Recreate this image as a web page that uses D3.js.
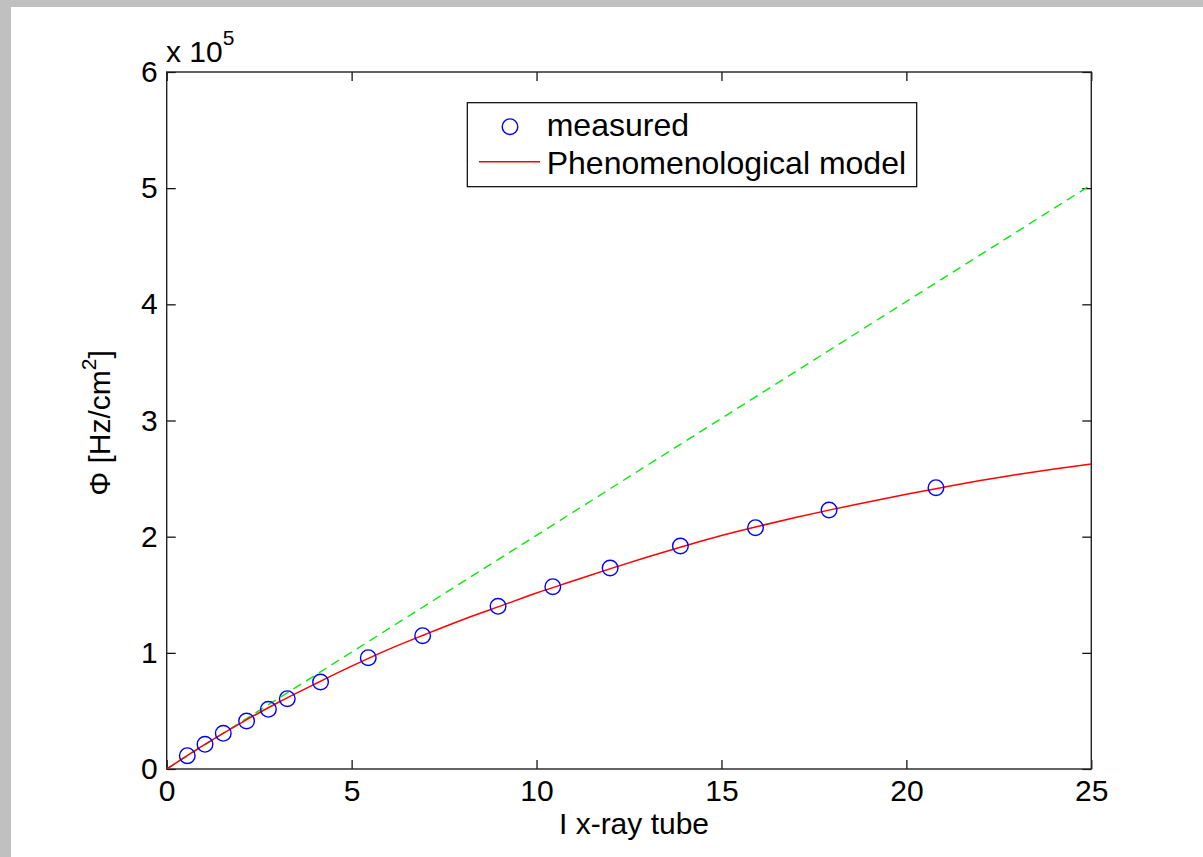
<!DOCTYPE html>
<html>
<head>
<meta charset="utf-8">
<script src="https://cdn.jsdelivr.net/npm/d3@7"></script>
<style>
  html, body { margin: 0; padding: 0; background: #ffffff; }
  svg { display: block; }
  text { font-family: "Liberation Sans", Arial, sans-serif; fill: #000; }
</style>
</head>
<body>
<svg id="chart" width="1203" height="857"></svg>
<script>
// ---- data ----
const measI   = [0.557, 1.036, 1.53, 2.16, 2.75, 3.26, 4.16, 5.45, 6.92, 8.96, 10.44, 11.99, 13.89, 15.92, 17.91, 20.8];
const measPhi = [11450, 21260, 30730, 41320, 51390, 60510, 74890, 95800, 114750, 140050, 156920, 173020, 191960, 207710, 222950, 242140];

const modelI   = [0, 1, 2, 3, 4, 5, 6, 7, 8, 9, 10, 11, 12, 13, 14, 15, 16, 17, 18, 19, 20, 21, 22, 23, 24, 25];
const modelPhi = [0, 20500, 39500, 57000, 73000, 88500, 103000, 116000, 128500, 140000, 151500, 162000, 172500, 182500, 192000, 201000, 209000, 216500, 223500, 230000, 236500, 242500, 248300, 253500, 258200, 262500];

const idealI   = [0, 25];
const idealPhi = [0, 503000];

const xTicks = [0, 5, 10, 15, 20, 25];
const yTicks = [0, 1e5, 2e5, 3e5, 4e5, 5e5, 6e5];

const legendLabels = ["measured", "Phenomenological model"];
const xLabel = "I x-ray tube";

// ---- layout ----
const svg = d3.select("#chart");
const W = 1203, H = 857;
const plot = { left: 166.7, top: 72, right: 1091.3, bottom: 769 };

// window frame
svg.append("rect").attr("x", 0).attr("y", 0).attr("width", W).attr("height", H).attr("fill", "#ffffff");
svg.append("rect").attr("x", 0).attr("y", 0).attr("width", W).attr("height", 7).attr("fill", "#c0c0c0");
svg.append("rect").attr("x", 0).attr("y", 0).attr("width", 11).attr("height", H).attr("fill", "#c0c0c0");

const x = d3.scaleLinear().domain([0, 25]).range([plot.left, plot.right]);
const y = d3.scaleLinear().domain([0, 6e5]).range([plot.bottom, plot.top]);

const fs = 30;
const tickLen = 9;

// clip
svg.append("clipPath").attr("id", "clip").append("rect")
  .attr("x", plot.left).attr("y", plot.top)
  .attr("width", plot.right - plot.left).attr("height", plot.bottom - plot.top);

// axes with inward ticks
const axB = d3.axisBottom(x).tickValues(xTicks).tickSizeInner(-tickLen).tickSizeOuter(0).tickPadding(11).tickFormat(d3.format("d"));
const axT = d3.axisTop(x).tickValues(xTicks).tickSizeInner(-tickLen).tickSizeOuter(0).tickFormat("");
const axL = d3.axisLeft(y).tickValues(yTicks).tickSizeInner(-tickLen).tickSizeOuter(0).tickPadding(9).tickFormat(d => d3.format("d")(d / 1e5));
const axR = d3.axisRight(y).tickValues(yTicks).tickSizeInner(-tickLen).tickSizeOuter(0).tickFormat("");

function styleAxis(g) {
  g.select(".domain").remove();
  g.selectAll(".tick line").attr("stroke", "#000").attr("stroke-width", 1.2);
  g.selectAll(".tick text").attr("font-size", fs).attr("font-family", "Liberation Sans, Arial, sans-serif").attr("fill", "#000");
}
svg.append("g").attr("transform", `translate(0,${plot.bottom})`).call(axB).call(styleAxis);
svg.append("g").attr("transform", `translate(0,${plot.top})`).call(axT).call(styleAxis);
svg.append("g").attr("transform", `translate(${plot.left},0)`).call(axL).call(styleAxis);
svg.append("g").attr("transform", `translate(${plot.right},0)`).call(axR).call(styleAxis);

// box
svg.append("rect").attr("x", plot.left).attr("y", plot.top)
  .attr("width", plot.right - plot.left).attr("height", plot.bottom - plot.top)
  .attr("fill", "none").attr("stroke", "#222").attr("stroke-width", 1.4);

// exponent label
const expT = svg.append("text").attr("x", 166).attr("y", 62).attr("font-size", fs);
expT.append("tspan").text("x 10");
expT.append("tspan").attr("font-size", 21).attr("dy", -17).text("5");

// lines
const lineGen = d3.line().x(d => x(d[0])).y(d => y(d[1]));
const gData = svg.append("g").attr("clip-path", "url(#clip)");

gData.append("path")
  .datum(idealI.map((v, i) => [v, idealPhi[i]]))
  .attr("d", lineGen)
  .attr("fill", "none").attr("stroke", "#00ee00").attr("stroke-width", 1.4)
  .attr("stroke-dasharray", "9,6");

gData.append("path")
  .datum(modelI.map((v, i) => [v, modelPhi[i]]))
  .attr("d", lineGen.curve(d3.curveCatmullRom))
  .attr("fill", "none").attr("stroke", "#ff0000").attr("stroke-width", 1.5);

gData.selectAll("circle.meas")
  .data(measI.map((v, i) => [v, measPhi[i]]))
  .join("circle").attr("class", "meas")
  .attr("cx", d => x(d[0])).attr("cy", d => y(d[1])).attr("r", 7.8)
  .attr("fill", "none").attr("stroke", "#0000ff").attr("stroke-width", 1.4);

// axis labels
svg.append("text").attr("x", 634).attr("y", 834)
  .attr("text-anchor", "middle").attr("font-size", fs).text(xLabel);

const yl = svg.append("text").attr("transform", "translate(110,423) rotate(-90)")
  .attr("text-anchor", "middle").attr("font-size", fs);
yl.append("tspan").text("Φ [Hz/cm");
yl.append("tspan").attr("font-size", 21).attr("dy", -14).text("2");
yl.append("tspan").attr("dy", 14).text("]");

// legend
const lg = svg.append("g");
lg.append("rect").attr("x", 467.3).attr("y", 102.7).attr("width", 449.4).attr("height", 84)
  .attr("fill", "#fff").attr("stroke", "#000").attr("stroke-width", 1.2);
lg.append("circle").attr("cx", 510).attr("cy", 126.7).attr("r", 7.8)
  .attr("fill", "none").attr("stroke", "#0000ff").attr("stroke-width", 1.4);
lg.append("line").attr("x1", 479).attr("x2", 540).attr("y1", 161.7).attr("y2", 161.7)
  .attr("stroke", "#ff0000").attr("stroke-width", 1.5);
lg.append("text").attr("x", 546.7).attr("y", 136).attr("font-size", 32).text(legendLabels[0]);
lg.append("text").attr("x", 546.7).attr("y", 174).attr("font-size", 32).text(legendLabels[1]);
</script>
</body>
</html>
